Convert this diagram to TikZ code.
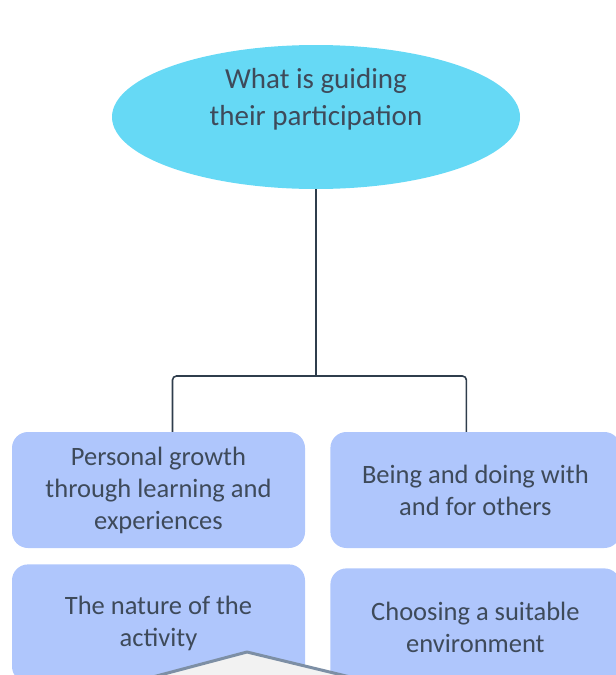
\documentclass[tikz,border=0pt]{standalone}
\usepackage{fontspec}
\setmainfont{Carlito}
\usepackage{xcolor}
\usepackage{tikz}
\usetikzlibrary{shapes.geometric,positioning}

\definecolor{sky}{HTML}{66D9F5}
\definecolor{pale}{HTML}{AFC6FC}
\definecolor{ink}{HTML}{3E4A5A}
\definecolor{wire}{HTML}{2F3D4C}
\definecolor{slate}{HTML}{7D8FA5}

\begin{document}
\begin{tikzpicture}[x=1pt,y=-1pt,
   goal/.style={ellipse,fill=sky,inner sep=0pt,
      minimum width=408pt,minimum height=144pt},
   goaltext/.style={text=ink,align=center,inner sep=0pt,
      font=\fontsize{29}{37}\selectfont},
   choice/.style={rectangle,rounded corners=16pt,fill=pale,text=ink,
      align=center,inner sep=0pt,minimum width=293pt,minimum height=116pt,
      font=\fontsize{26.5}{32}\selectfont},
   link/.style={draw=wire,line width=1.6pt,rounded corners=4pt}]
   \useasboundingbox (0,0) rectangle (616,675);
   \clip (0,0) rectangle (616,675);

   \node[goal] (guide) at (316,117) {};
   \node[goaltext] (guidetext) at ([yshift=18pt]guide.center) {What is guiding\\their participation};
   \node[choice] (growth) at (158.5,490) {Personal growth\\through learning and\\experiences};
   \node[choice,minimum width=290pt] (others) [right=25pt of growth] {Being and doing with\\and for others};
   \node[choice,minimum height=118pt] (nature) [below=16pt of growth] {The nature of the\\activity};
   \node[choice,minimum width=290pt,minimum height=118pt] (place) [below=20pt of others] {Choosing a suitable\\environment};

   \coordinate (fork) at (316,376);
   \draw[link] (guide.south) -- (fork);
   \draw[link] ([xshift=14pt]growth.north) |- (fork) -| ([xshift=-9pt]others.north);

   % grey shape cut off at the bottom
   \draw[fill=black!5,draw=slate,line width=3pt,line join=round]
      (247,652) -- (130,683) -- (375,683) -- cycle;
\end{tikzpicture}
\end{document}
